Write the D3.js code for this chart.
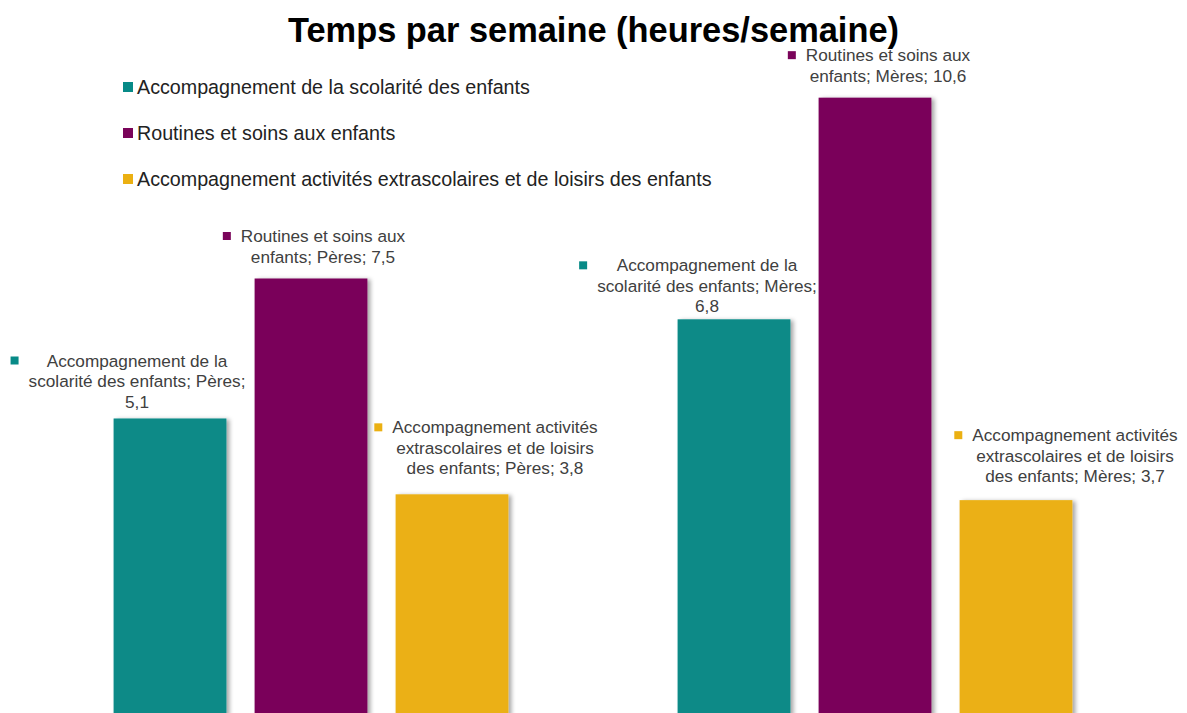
<!DOCTYPE html>
<html>
<head>
<meta charset="utf-8">
<script src="https://cdn.jsdelivr.net/npm/d3@7"></script>
<style>
  body { margin: 0; background: #fff; }
  text { font-family: "Liberation Sans", Arial, sans-serif; }
</style>
</head>
<body>
<div id="chart"></div>
<script>
// données
const groups = ["Pères", "Mères"];
const series = [
    "Accompagnement de la scolarité des enfants",
    "Routines et soins aux enfants",
    "Accompagnement activités extrascolaires et de loisirs des enfants"
];
const valuesPeres = [5.1, 7.5, 3.8];
const valuesMeres = [6.8, 10.6, 3.7];
const colors = ["#078a87", "#7a045a", "#ebb012"];

// décalage des étiquettes déplacées à la main (dx, écart au-dessus de la barre)
const labelShift = [
    [[-33, 11], [12, 16], [43, 20]],
    [[-27, 7], [13, 16], [59, 18]]
];

function createChart() {
    const width = 1187, height = 713;
    const values = [valuesPeres, valuesMeres];
    const fmt = d3.formatLocale({decimal: ",", thousands: " ", grouping: [3], currency: ["", "€"]}).format(".1f");

    const svg = d3.select("#chart")
        .append("svg")
        .attr("width", width)
        .attr("height", height);

    const defs = svg.append("defs");
    const shadow = defs.append("filter")
        .attr("id", "shadow")
        .attr("x", "-10%").attr("y", "-10%")
        .attr("width", "130%").attr("height", "130%");
    shadow.append("feDropShadow")
        .attr("dx", 3).attr("dy", 1)
        .attr("stdDeviation", 2)
        .attr("flood-color", "#000")
        .attr("flood-opacity", 0.35);

    const x0 = d3.scaleBand()
        .domain(groups)
        .range([29, 1157]);

    const x1 = d3.scaleBand()
        .domain(d3.range(series.length))
        .range([0, x0.bandwidth()])
        .paddingInner(0.2)
        .paddingOuter(0.6);

    const y = d3.scaleLinear()
        .domain([0, 12])
        .range([716, 16]);

    // titre
    svg.append("text")
        .attr("x", width / 2)
        .attr("y", 42)
        .attr("text-anchor", "middle")
        .style("font-size", "34.4px")
        .style("font-weight", "bold")
        .attr("fill", "#000")
        .text("Temps par semaine (heures/semaine)");

    // barres
    const g = svg.selectAll(".group")
        .data(groups)
        .enter()
        .append("g")
        .attr("class", "group")
        .attr("transform", d => `translate(${x0(d)},0)`);

    g.selectAll("rect")
        .data((d, gi) => values[gi].map((v, i) => ({v, i, gi})))
        .enter()
        .append("rect")
        .attr("x", d => x1(d.i))
        .attr("y", d => y(d.v))
        .attr("width", x1.bandwidth())
        .attr("height", d => y(0) - y(d.v))
        .attr("fill", d => colors[d.i])
        .attr("filter", "url(#shadow)");

    // étiquettes de données
    const fontSize = 17.2, lineH = 20.5, maxW = 223;
    groups.forEach((grp, gi) => {
        values[gi].forEach((v, i) => {
            const label = `${series[i]}; ${grp}; ${fmt(v)}`;
            const [dx, gap] = labelShift[gi][i];
            const cx = x0(grp) + x1(i) + x1.bandwidth() / 2 + dx;

            const t = svg.append("text")
                .attr("text-anchor", "middle")
                .attr("fill", "#404040")
                .style("font-size", fontSize + "px");

            // retour à la ligne
            const words = label.split(" ");
            const lines = [];
            let cur = [];
            const probe = t.append("tspan");
            words.forEach(w => {
                const test = cur.concat([w]).join(" ");
                probe.text(test);
                if (cur.length && probe.node().getComputedTextLength() > maxW) {
                    lines.push(cur.join(" "));
                    cur = [w];
                } else {
                    cur.push(w);
                }
            });
            lines.push(cur.join(" "));
            probe.remove();

            const lastBase = y(v) - gap;
            const firstBase = lastBase - (lines.length - 1) * lineH;
            let widest = 0;
            lines.forEach((ln, k) => {
                const sp = t.append("tspan")
                    .attr("x", cx)
                    .attr("y", firstBase + k * lineH)
                    .text(ln);
                widest = Math.max(widest, sp.node().getComputedTextLength());
            });

            svg.append("rect")
                .attr("x", cx - widest / 2 - 18)
                .attr("y", firstBase - 10)
                .attr("width", 8)
                .attr("height", 8)
                .attr("fill", colors[i]);
        });
    });

    // légende
    const legend = svg.selectAll(".legend")
        .data(series)
        .enter()
        .append("g")
        .attr("class", "legend")
        .attr("transform", (d, i) => `translate(123,${94 + i * 46})`);

    legend.append("rect")
        .attr("x", 0)
        .attr("y", -12)
        .attr("width", 10)
        .attr("height", 10)
        .attr("fill", (d, i) => colors[i]);

    legend.append("text")
        .attr("x", 14)
        .attr("y", 0)
        .attr("fill", "#222")
        .style("font-size", "19.7px")
        .text(d => d);
}

createChart();
</script>
</body>
</html>
